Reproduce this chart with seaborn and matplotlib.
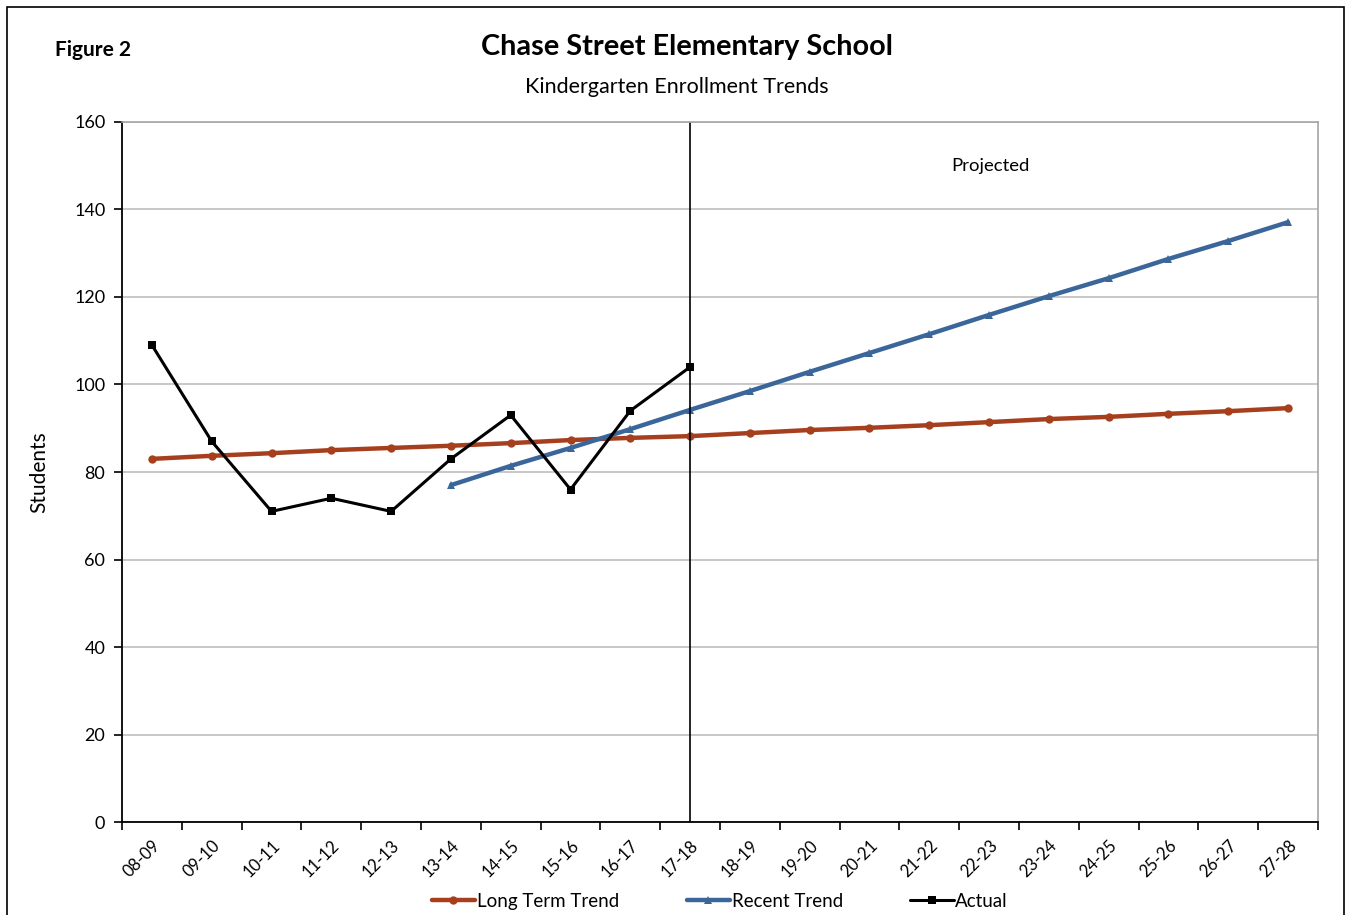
import numpy as np
import pandas as pd
import seaborn as sns
import matplotlib.pyplot as plt
from matplotlib.ticker import FixedLocator

years = ['08-09', '09-10', '10-11', '11-12', '12-13', '13-14', '14-15', '15-16', '16-17', '17-18',
         '18-19', '19-20', '20-21', '21-22', '22-23', '23-24', '24-25', '25-26', '26-27', '27-28']
long_term = [83.0, 83.7, 84.3, 85.0, 85.5, 86.0, 86.6, 87.3, 87.8, 88.2,
             88.9, 89.6, 90.1, 90.7, 91.4, 92.1, 92.6, 93.3, 93.9, 94.6]
recent_years = years[5:]
recent = [77.0, 81.4, 85.5, 89.8, 94.2, 98.5, 102.9, 107.2, 111.5, 115.9,
          120.2, 124.3, 128.7, 132.8, 137.1]
actual_years = years[:10]
actual = [109, 87, 71, 74, 71, 83, 93, 76, 94, 104]

sns.set_theme(style='white')
plt.rcParams['font.family'] = ['Lato', 'DejaVu Sans']
plt.rcParams.update({'text.color': 'black', 'axes.labelcolor': 'black',
                     'xtick.color': 'black', 'ytick.color': 'black'})

pos = {y: i for i, y in enumerate(years)}
df_long = pd.DataFrame({'x': [pos[y] for y in years], 'v': long_term})
df_recent = pd.DataFrame({'x': [pos[y] for y in recent_years], 'v': recent})
df_actual = pd.DataFrame({'x': [pos[y] for y in actual_years], 'v': actual})

fig = plt.figure(figsize=(13.53, 9.15), dpi=100)
ax = fig.add_axes([0.0902, 0.1016, 0.8839, 0.7651])

c_long = '#A63F1E'
c_recent = '#3B6699'
sns.lineplot(data=df_long, x='x', y='v', ax=ax, color=c_long, lw=3.2, marker='o',
             markersize=6, markeredgewidth=0, label='Long Term Trend')
sns.lineplot(data=df_recent, x='x', y='v', ax=ax, color=c_recent, lw=3.2, marker='^',
             markersize=6, markeredgewidth=0, label='Recent Trend')
sns.lineplot(data=df_actual, x='x', y='v', ax=ax, color='black', lw=2.2, marker='s',
             markersize=5.3, markeredgewidth=0, label='Actual')

ax.set_xlim(-0.5, len(years) - 0.5)
ax.set_ylim(0, 160)
ax.set_yticks(range(0, 161, 20))
ax.yaxis.grid(True, color='#BFBFBF', lw=1.2)
ax.set_axisbelow(True)

ax.set_xticks(range(len(years)))
ax.set_xticklabels(years, rotation=45, ha='right', rotation_mode='anchor', fontsize=12)
ax.xaxis.set_minor_locator(FixedLocator(np.arange(-0.5, len(years), 1)))
ax.tick_params(axis='x', which='major', length=0, pad=11)
ax.tick_params(axis='x', which='minor', length=6, width=1.2, direction='out', color='black', bottom=True)
ax.tick_params(axis='y', length=6, width=1.2, direction='out', color='black', left=True, labelsize=13, pad=6)

for side in ['top', 'right']:
    ax.spines[side].set_color('#A6A6A6')
    ax.spines[side].set_linewidth(1.2)
for side in ['left', 'bottom']:
    ax.spines[side].set_color('black')
    ax.spines[side].set_linewidth(1.3)

ax.axvline(pos['17-18'], color='black', lw=1.2)
ax.text(14.03, 150, 'Projected', ha='center', va='center', fontsize=13.3)

ax.set_xlabel('')
ax.set_ylabel('Students', fontsize=15, labelpad=18)

leg = ax.legend(loc='center', bbox_to_anchor=(0.5, -0.113), ncol=3, frameon=False,
                fontsize=13.5, handlelength=2.3, handletextpad=0.1, columnspacing=3.6)

fig.text(0.069, 0.945, 'Figure 2', fontsize=15, fontweight='bold', ha='center', va='center')
fig.text(0.508, 0.949, 'Chase Street Elementary School', fontsize=20.8, fontweight='bold',
         ha='center', va='center')
fig.text(0.5, 0.905, 'Kindergarten Enrollment Trends', fontsize=15.5, ha='center', va='center')

# outer frame like the pasted chart
fig.patches.append(plt.Rectangle((0.005, -0.01), 0.988, 1.002, transform=fig.transFigure,
                                 fill=False, edgecolor='black', lw=1.2))

fig.savefig('out.png', dpi=100)
